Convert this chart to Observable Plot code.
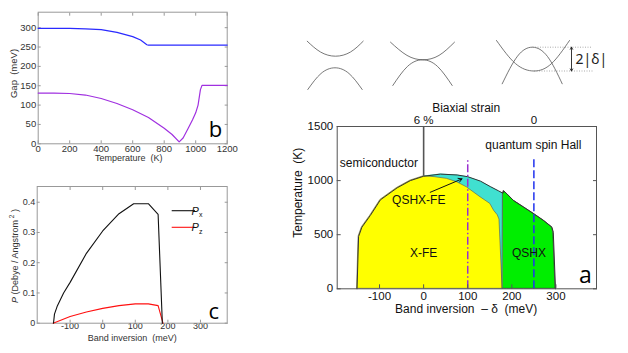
<!DOCTYPE html>
<html><head><meta charset="utf-8">
<script src="https://cdn.jsdelivr.net/npm/d3@7"></script>
<script src="https://cdn.jsdelivr.net/npm/@observablehq/plot@0.6"></script>
<style>
body{margin:0;background:#fff;}
#root{position:relative;width:628px;height:353px;overflow:hidden;background:#fff;}
</style></head><body><div id="root"></div>
<script>
// ---------- Panel b: gap vs temperature ----------
const gapTempUpper = [0, 100, 200, 300, 400, 500, 600, 650, 690, 700, 800, 1000, 1200];
const gapUpper     = [298, 298, 298, 297, 295, 288, 277, 268, 256, 255, 255, 255, 255];
const gapTempLower = [0, 100, 200, 300, 400, 500, 600, 700, 800, 850, 895, 920, 950, 980, 1000, 1015, 1030, 1040, 1200];
const gapLower     = [131, 131, 130, 126, 117, 104, 88, 68, 40, 24, 5, 15, 38, 62, 80, 100, 140, 151, 151];
const gapTicks  = [0, 50, 100, 150, 200, 250, 300];
const tempTicks = [0, 200, 400, 600, 800, 1000, 1200];

// ---------- Panel c: polarization vs band inversion ----------
const pxInv = [-151, -148, -140, -120, -100, -50, 0, 50, 95, 140, 170, 183];
const pxVal = [0, 0.03, 0.055, 0.1, 0.135, 0.231, 0.305, 0.362, 0.395, 0.395, 0.36, 0];
const pzInv = [-152, -100, -50, 0, 50, 100, 140, 170, 185];
const pzVal = [0, 0.022, 0.037, 0.049, 0.058, 0.064, 0.064, 0.058, 0];
const pTicks = [0, 0.1, 0.2, 0.3, 0.4];
const invTicks = [-100, 0, 100, 200, 300];

// ---------- Panel a: phase diagram ----------
const xfeInv = [-151, -147.5, -140, -121, -98, -60, -30, 0, 25, 53, 76, 98, 129, 151, 160, 168, 172, 179];
const xfeT   = [0, 483, 569, 677, 822, 933, 1000, 1040, 1032, 1016, 985, 938, 846, 785, 720, 680, 640, 0];
const qshxfeInv = [0, 38, 76, 100, 129, 151, 170, 179];
const qshxfeT   = [1042, 1060, 1052, 1036, 995, 945, 905, 885];
const qshxInv = [180, 181.5, 189, 204, 227, 249, 272, 291, 294, 299];
const qshxT   = [882, 905, 877, 815, 754, 695, 631, 569, 523, 0];
const semiconductorInv = [0], semiconductorTmin = [1040], semiconductorTmax = [1500];
const markerInv = [100, 250];
const markerTmax = [1200, 1200];
const tempTicksA = [0, 500, 1000, 1500];
const strainTickInv = [0, 250];
const strainTickLabels = ["6 %", "0"];

// ---------- Band sketches (schematic) ----------
const sk1Upper = [[306.7,40.7],[320,51.5],[335,55.7],[350,51.5],[362.7,40.7]];
const sk1Lower = [[307.3,89],[320.5,73],[334.5,67.3],[348.5,73],[361.7,89]];
const sk2Upper = [[390,41.7],[406.5,54.9],[422.5,59.3],[438.5,54.9],[454,41.7]];
const sk2Lower = [[392.3,85],[407,65.9],[422,59.3],[437,65.9],[451.7,85]];
const sk3U     = [[496,40],[515,63.1],[533.5,70.5],[551,63.1],[569,40]];
const sk3Cap   = [[501.7,83.3],[517,55.7],[532,46.7],[547,56],[561.7,83.3]];

const root = document.getElementById("root");
function place(el, left, top){ el.style.position="absolute"; el.style.left=left+"px"; el.style.top=top+"px"; root.appendChild(el); return el; }
const SANS = "'Liberation Sans', Arial, sans-serif";
const BIG = "'Open Sans', 'Noto Sans', sans-serif";
const plain = d => String(d);

// ===== Panel b =====
const bUpper = gapTempUpper.map((t,i)=>({t, gap: gapUpper[i]}));
const bLower = gapTempLower.map((t,i)=>({t, gap: gapLower[i]}));
const plotB = Plot.plot({
  width:240, height:170, marginLeft:37.7, marginRight:13.3, marginTop:11.7, marginBottom:26.7,
  style:{fontFamily:SANS, fontSize:"9.5px", color:"#333", background:"transparent", overflow:"visible"},
  x:{domain:[0,1200]}, y:{domain:[0,340]},
  marks:[
    Plot.axisY({ticks:gapTicks, tickSize:-3, tickPadding:5, tickFormat:plain, stroke:"#999", fill:"#333", label:null}),
    Plot.axisY({anchor:"right", ticks:gapTicks, tickSize:-3, tickFormat:()=>"", stroke:"#999", label:null}),
    Plot.axisX({ticks:tempTicks, tickSize:-3, tickPadding:4, tickFormat:plain, stroke:"#999", fill:"#333", label:null}),
    Plot.axisX({anchor:"top", ticks:tempTicks, tickSize:-3, tickFormat:()=>"", stroke:"#999", label:null}),
    Plot.frame({stroke:"#999"}),
    Plot.line(bUpper, {x:"t", y:"gap", stroke:"#2a2aff", strokeWidth:1.2}),
    Plot.line(bLower, {x:"t", y:"gap", stroke:"#a030e0", strokeWidth:1.2}),
    Plot.text(["Gap  (meV)"], {frameAnchor:"left", rotate:-90, dx:-24.4, dy:-4.5, textAnchor:"middle", lineAnchor:"middle", fontSize:9.5, fill:"#333"}),
    Plot.text(["Temperature  (K)"], {frameAnchor:"bottom", dx:-4, dy:14, textAnchor:"middle", lineAnchor:"middle", fontSize:9, fill:"#333"}),
    Plot.text(["b"], {frameAnchor:"bottom-right", dx:-11.7, dy:-14, textAnchor:"middle", lineAnchor:"middle", fontSize:22, fontFamily:BIG, fill:"#000"})
  ]
});
place(plotB, 0, 0);

// ===== Panel c =====
const cPx = pxInv.map((x,i)=>({x, p: pxVal[i]}));
const cPz = pzInv.map((x,i)=>({x, p: pzVal[i]}));
const plotC = Plot.plot({
  width:240, height:183, marginLeft:36.7, marginRight:13.3, marginTop:16, marginBottom:30.3,
  style:{fontFamily:SANS, fontSize:"9px", color:"#333", background:"transparent", overflow:"visible"},
  x:{domain:[-201,382]}, y:{domain:[0,0.452]},
  marks:[
    Plot.axisY({ticks:pTicks, tickSize:-3, tickPadding:5, tickFormat:plain, stroke:"#999", fill:"#333", label:null}),
    Plot.axisY({anchor:"right", ticks:pTicks, tickSize:-3, tickFormat:()=>"", stroke:"#999", label:null}),
    Plot.axisX({ticks:invTicks, tickSize:-3, tickPadding:2.5, tickFormat:plain, stroke:"#999", fill:"#333", label:null}),
    Plot.axisX({anchor:"top", ticks:invTicks, tickSize:-3, tickFormat:()=>"", stroke:"#999", label:null}),
    Plot.frame({stroke:"#999"}),
    Plot.line(cPz, {x:"x", y:"p", stroke:"#ff1010", strokeWidth:1.1}),
    Plot.line(cPx, {x:"x", y:"p", stroke:"#111", strokeWidth:1.1}),
    Plot.text(["Band inversion  (meV)"], {frameAnchor:"bottom", dy:14.5, textAnchor:"middle", lineAnchor:"middle", fontSize:9, fill:"#333"}),
    Plot.text(["c"], {frameAnchor:"bottom-right", dx:-13.4, dy:-11, textAnchor:"middle", lineAnchor:"middle", fontSize:22, fontFamily:BIG, fill:"#000"})
  ]
});
place(plotC, 0, 170);
{
  const g = d3.select(plotC).append("g").attr("font-family", SANS);
  const yl = g.append("text").attr("transform","translate(15,86) rotate(-90)").attr("text-anchor","middle")
    .attr("dy","0.35em").attr("font-size","9px").attr("fill","#333");
  yl.append("tspan").attr("font-style","italic").text("P");
  yl.append("tspan").text(" (Debye / Angstrom");
  yl.append("tspan").attr("font-size","6.5px").attr("dy","-4").text(" 2");
  yl.append("tspan").attr("dy","4").text(" )");
  const leg = [{label:"x", color:"#111", y:40.7},{label:"z", color:"#ff1010", y:57.3}];
  leg.forEach(l=>{
    g.append("line").attr("x1",171.7).attr("x2",195).attr("y1",l.y).attr("y2",l.y).attr("stroke",l.color).attr("stroke-width",1.1);
    const t = g.append("text").attr("x",197).attr("y",l.y+4).attr("font-size","11px").attr("fill","#111");
    t.append("tspan").attr("font-style","italic").text("P");
    t.append("tspan").attr("font-size","7px").attr("dy","2.5").text(l.label);
  });
}

// ===== Panel a =====
const aXfe = xfeInv.map((x,i)=>({x, T: xfeT[i]}));
const aQshxfe = qshxfeInv.map((x,i)=>({x, T: qshxfeT[i]}));
const aQshx = qshxInv.map((x,i)=>({x, T: qshxT[i]}));
const dome = [...aXfe.filter(d=>d.x<=0), ...aQshxfe.filter(d=>d.x>0), ...aQshx];
const semi = semiconductorInv.map((x,i)=>({x, t1: semiconductorTmin[i], t2: semiconductorTmax[i]}));
const markers = markerInv.map((x,i)=>({x, t2: markerTmax[i]}));
const strainLabel = new Map(strainTickInv.map((x,i)=>[x, strainTickLabels[i]]));
const plotA = Plot.plot({
  width:328, height:253, marginLeft:36.7, marginRight:32, marginTop:26, marginBottom:64.7,
  style:{fontFamily:SANS, fontSize:"11.5px", color:"#111", background:"transparent", overflow:"visible"},
  x:{domain:[-196,392]}, y:{domain:[0,1500]},
  marks:[
    Plot.areaY(aQshxfe, {x:"x", y:"T", fill:"#40e0d0"}),
    Plot.areaY(aXfe, {x:"x", y:"T", fill:"#ffff00", stroke:"#555", strokeWidth:0.6}),
    Plot.areaY(aQshx, {x:"x", y:"T", fill:"#00ee00", stroke:"#333", strokeWidth:0.7}),
    Plot.line(dome, {x:"x", y:"T", stroke:"#333", strokeWidth:1}),
    Plot.ruleX(semi, {x:"x", y1:"t1", y2:"t2", stroke:"#555", strokeWidth:1.6}),
    Plot.ruleX(markers.slice(0,1), {x:"x", y1:0, y2:"t2", stroke:"#9a30d0", strokeWidth:1.5, strokeDasharray:"8,2.5,1.5,2.5"}),
    Plot.ruleX(markers.slice(1,2), {x:"x", y1:0, y2:"t2", stroke:"#2233ee", strokeWidth:1.5, strokeDasharray:"8,3"}),
    Plot.axisY({ticks:tempTicksA, tickSize:-4, tickPadding:8, tickFormat:plain, stroke:"#555", fill:"#111", label:null}),
    Plot.axisY({anchor:"right", ticks:tempTicksA, tickSize:-4, tickFormat:()=>"", stroke:"#555", label:null}),
    Plot.axisX({ticks:invTicks, tickSize:-4, tickPadding:7, tickFormat:plain, stroke:"#555", fill:"#111", label:null}),
    Plot.axisX({anchor:"top", ticks:strainTickInv, tickSize:0, tickPadding:3, tickFormat:d=>strainLabel.get(d), fill:"#111", label:null}),
    Plot.frame({stroke:"#555"}),
    Plot.text(["semiconductor"], {x:-190, y:1164, textAnchor:"start", fontSize:12, fill:"#111"}),
    Plot.text(["quantum spin Hall"], {x:140, y:1330, textAnchor:"start", fontSize:12, fill:"#111"}),
    Plot.text(["X-FE"], {x:0, y:329, fontSize:12, fill:"#111"}),
    Plot.text(["QSHX"], {x:239, y:329, fontSize:12, fill:"#111"}),
    Plot.text(["QSHX-FE"], {x:-11, y:822, fontSize:12, fill:"#111"}),
    Plot.arrow([{x1:15, y1:892, x2:87, y2:1016}], {x1:"x1", y1:"y1", x2:"x2", y2:"y2", stroke:"#111", strokeWidth:1, headLength:6}),
    Plot.text(["Biaxial strain"], {frameAnchor:"top", dx:-0.7, dy:-18.7, textAnchor:"middle", lineAnchor:"middle", fontSize:12, fill:"#111"}),
    Plot.text(["Temperature  (K)"], {frameAnchor:"left", rotate:-90, dx:-38.7, dy:-15, textAnchor:"middle", lineAnchor:"middle", fontSize:12, fill:"#111"}),
    Plot.text(["Band inversion  \u2013 \u03b4  (meV)"], {frameAnchor:"bottom", dx:-0.7, dy:20, textAnchor:"middle", lineAnchor:"middle", fontSize:12, fill:"#111"}),
    Plot.text(["a"], {frameAnchor:"bottom-right", dx:-11, dy:-13.3, textAnchor:"middle", lineAnchor:"middle", fontSize:23, fontFamily:BIG, fill:"#000"})
  ]
});
place(plotA, 300, 100);

// ===== Band sketches =====
const sketchRows = [];
[["s1u",sk1Upper],["s1l",sk1Lower],["s2u",sk2Upper],["s2l",sk2Lower],["s3u",sk3U],["s3c",sk3Cap]]
  .forEach(([id,pts])=>pts.forEach(([x,y])=>sketchRows.push({id,x,y})));
const deltaTop = sk3Cap[2], deltaBot = sk3U[2];
const dotted = [
  {x1:deltaTop[0], y1:deltaTop[1], x2:592, y2:deltaTop[1]},
  {x1:deltaBot[0], y1:deltaBot[1], x2:592, y2:deltaBot[1]}
];
const midY = (deltaTop[1]+deltaBot[1])/2;
const arrows = [
  {x1:571, y1:midY, x2:571, y2:deltaTop[1]},
  {x1:571, y1:midY, x2:571, y2:deltaBot[1]}
];
const plotS = Plot.plot({
  width:340, height:75, margin:0,
  style:{fontFamily:SANS, background:"transparent", overflow:"visible"},
  x:{domain:[280,620]}, y:{domain:[100,25]},
  axis:null,
  marks:[
    Plot.line(sketchRows, {x:"x", y:"y", z:"id", curve:"natural", stroke:"#555", strokeWidth:0.8}),
    Plot.link(dotted, {x1:"x1", y1:"y1", x2:"x2", y2:"y2", stroke:"#888", strokeWidth:0.7, strokeDasharray:"1,1.5"}),
    Plot.arrow(arrows, {x1:"x1", y1:"y1", x2:"x2", y2:"y2", stroke:"#222", strokeWidth:0.9, headLength:4}),
    Plot.text(["2|\u03b4|"], {x:575, y:midY, textAnchor:"start", lineAnchor:"middle", fontSize:14, fontFamily:"'Noto Sans', sans-serif", fill:"#222"})
  ]
});
place(plotS, 280, 25);
</script>
</body></html>
